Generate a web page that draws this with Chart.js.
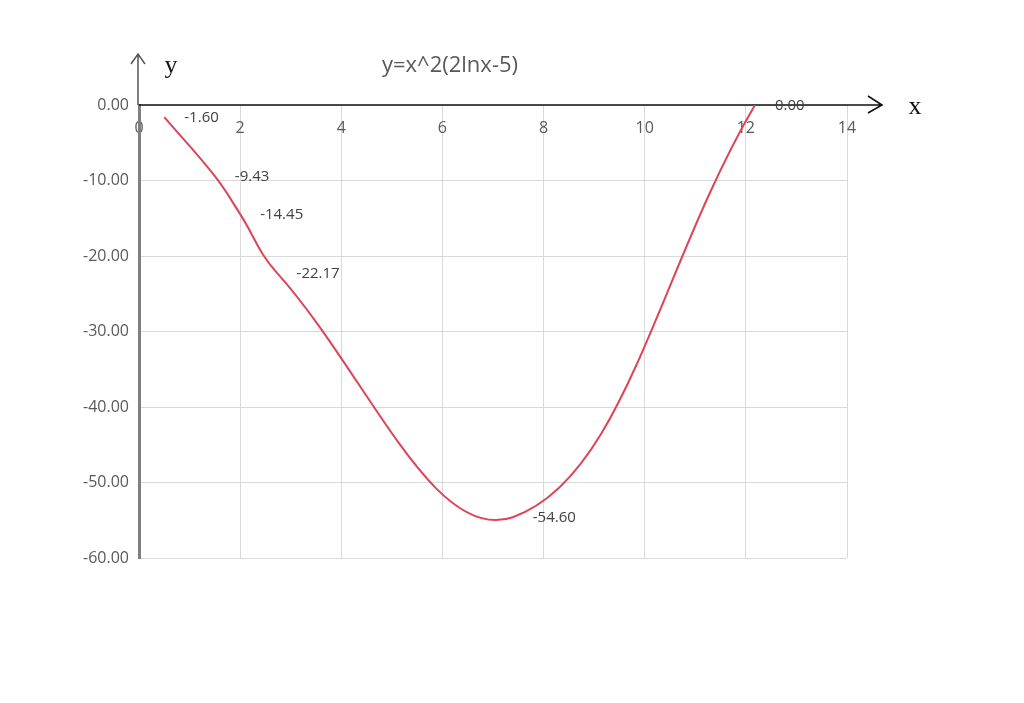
<!DOCTYPE html>
<html>
<head>
<meta charset="utf-8">
<script src="https://cdn.jsdelivr.net/npm/chart.js@4/dist/chart.umd.min.js"></script>
<style>
  body { margin: 0; background: #fff; }
  #wrap { width: 1024px; height: 703px; }
</style>
</head>
<body>
<div id="wrap"><canvas id="myChart" width="1024" height="703"></canvas></div>
<script>
// points (x, y)
var xValues = [0.5, 1.5, 2, 2.72, 7.39, 12.18];
var yValues = [-1.60, -9.43, -14.45, -22.17, -54.60, 0.00];
var xTicks = [0, 2, 4, 6, 8, 10, 12, 14];
var yTicks = [0, -10, -20, -30, -40, -50, -60];
var chartTitle = 'y=x^2(2lnx-5)';

var points = xValues.map(function (v, i) { return { x: v, y: yValues[i] }; });

// axis lines with arrows, axis names, title and point labels
var decorations = {
    id: 'decorations',
    beforeDatasetsDraw: function (chart) {
        var ctx = chart.ctx, area = chart.chartArea;
        var x0 = chart.scales.x.getPixelForValue(0);
        var y0 = chart.scales.y.getPixelForValue(0);
        ctx.save();
        // y axis above zero + arrow
        ctx.strokeStyle = '#555';
        ctx.lineWidth = 1.5;
        ctx.beginPath();
        ctx.moveTo(x0 - 1, y0);
        ctx.lineTo(x0 - 1, area.top - 51);
        ctx.moveTo(x0 - 8, area.top - 41);
        ctx.lineTo(x0 - 1, area.top - 51);
        ctx.lineTo(x0 + 6, area.top - 41);
        ctx.stroke();
        // x axis + arrow
        ctx.strokeStyle = '#111';
        ctx.lineWidth = 1.6;
        ctx.beginPath();
        ctx.moveTo(x0, y0);
        ctx.lineTo(area.right + 35, y0);
        ctx.moveTo(area.right + 21, y0 - 9);
        ctx.lineTo(area.right + 35, y0);
        ctx.lineTo(area.right + 21, y0 + 8);
        ctx.stroke();
        ctx.restore();
    },
    afterDatasetsDraw: function (chart) {
        var ctx = chart.ctx;
        ctx.save();
        // labels next to the points
        ctx.font = '15px "Open Sans"';
        ctx.fillStyle = '#404040';
        ctx.textAlign = 'left';
        ctx.textBaseline = 'middle';
        chart.getDatasetMeta(0).data.forEach(function (pt, i) {
            ctx.fillText(yValues[i].toFixed(2), pt.x + 20, pt.y + 1);
        });
        // title
        ctx.font = '22px "Open Sans"';
        ctx.fillStyle = '#595959';
        ctx.textAlign = 'center';
        ctx.fillText(chartTitle, 450, 66);
        // axis names
        ctx.font = '26px "Liberation Serif"';
        ctx.fillStyle = '#111';
        ctx.fillText('y', 171, 66);
        ctx.fillText('x', 915, 107);
        ctx.restore();
    }
};

var ctx = document.getElementById('myChart').getContext('2d');
var myChart = new Chart(ctx, {
    type: 'line',
    data: {
        datasets: [{
            data: points,
            borderColor: 'rgb(222, 68, 86)',
            borderWidth: 2,
            pointRadius: 0,
            tension: 0.4,
            fill: false
        }]
    },
    options: {
        responsive: false,
        animation: false,
        layout: { padding: { left: 60, top: 105, right: 177, bottom: 145 } },
        plugins: {
            legend: { display: false },
            tooltip: { enabled: false }
        },
        scales: {
            x: {
                type: 'linear',
                position: { y: 0 },
                min: xTicks[0],
                max: xTicks[xTicks.length - 1],
                afterBuildTicks: function (scale) {
                    scale.ticks = xTicks.map(function (v) { return { value: v }; });
                },
                grid: { color: '#d9d9d9', lineWidth: 1, drawTicks: false },
                border: { display: false },
                ticks: {
                    color: '#595959',
                    font: { family: 'Open Sans', size: 16 },
                    padding: 14,
                    maxRotation: 0,
                    autoSkip: false
                }
            },
            y: {
                type: 'linear',
                position: 'left',
                min: yTicks[yTicks.length - 1],
                max: yTicks[0],
                afterBuildTicks: function (scale) {
                    scale.ticks = yTicks.map(function (v) { return { value: v }; });
                },
                afterFit: function (scale) { scale.width = 79; },
                grid: { color: '#d9d9d9', lineWidth: 1, drawTicks: false },
                border: { color: '#7f7f7f', width: 3 },
                ticks: {
                    color: '#595959',
                    font: { family: 'Open Sans', size: 16 },
                    padding: 10,
                    callback: function (v) { return Number(v).toFixed(2); }
                }
            }
        }
    },
    plugins: [decorations]
});
</script>
</body>
</html>
